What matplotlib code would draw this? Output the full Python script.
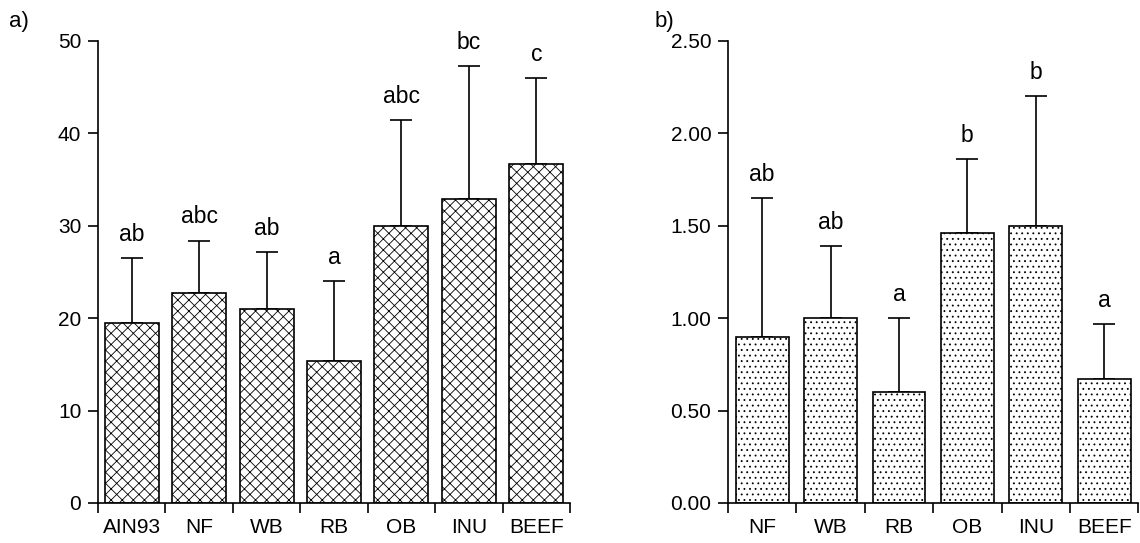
import numpy as np
import matplotlib
matplotlib.use("Agg")
import matplotlib.pyplot as plt

plt.rcParams['font.family'] = ['Liberation Sans', 'DejaVu Sans']
plt.rcParams['hatch.linewidth'] = 0.6

# panel a
cats_a = ["AIN93", "NF", "WB", "RB", "OB", "INU", "BEEF"]
mean_a = [19.5, 22.7, 21.0, 15.4, 30.0, 32.9, 36.7]
top_a = [26.5, 28.4, 27.2, 24.0, 41.4, 47.3, 46.0]
let_a = ["ab", "abc", "ab", "a", "abc", "bc", "c"]

# panel b
cats_b = ["NF", "WB", "RB", "OB", "INU", "BEEF"]
mean_b = [0.90, 1.00, 0.60, 1.46, 1.50, 0.67]
top_b = [1.65, 1.39, 1.00, 1.86, 2.20, 0.97]
let_b = ["ab", "ab", "a", "b", "b", "a"]

fig = plt.figure(figsize=(11.4, 5.43), dpi=100)
ax1 = fig.add_axes([0.086, 0.0737, 0.414, 0.851])
ax2 = fig.add_axes([0.6386, 0.0737, 0.36, 0.851])

def panel(ax, cats, means, tops, letters, hatch, width, ymax, step, fmt, off):
    x = np.arange(len(cats))
    err = np.array(tops) - np.array(means)
    ax.bar(x, means, width=width, color="white", edgecolor="black",
           linewidth=1.2, hatch=hatch, zorder=2)
    ax.errorbar(x, means, yerr=[np.zeros(len(x)), err], fmt="none",
                ecolor="black", elinewidth=1.2, capsize=8, capthick=1.2, zorder=1)
    for xi, t, l in zip(x, tops, letters):
        ax.text(xi, t + off, l, ha="center", va="bottom", fontsize=16.5)
    ax.set_xlim(-0.5, len(cats) - 0.5)
    ax.set_ylim(0, ymax)
    ax.set_yticks(np.arange(0, ymax + step / 2, step))
    ax.set_yticklabels([fmt.format(v) for v in np.arange(0, ymax + step / 2, step)])
    ax.set_xticks(x)
    ax.set_xticklabels(cats)
    ax.set_xticks(np.arange(-0.5, len(cats)), minor=True)
    ax.tick_params(axis="x", which="major", length=0, pad=11, labelsize=15)
    ax.tick_params(axis="x", which="minor", length=7, width=1.2, direction="out")
    ax.tick_params(axis="y", length=7, width=1.2, direction="out", labelsize=15, pad=5)
    for s in ["top", "right"]:
        ax.spines[s].set_visible(False)
    for s in ["left", "bottom"]:
        ax.spines[s].set_linewidth(1.2)

panel(ax1, cats_a, mean_a, top_a, let_a, "xxx", 0.8, 50, 10, "{:.0f}", 1.3)
panel(ax2, cats_b, mean_b, top_b, let_b, "...", 0.77, 2.5, 0.5, "{:.2f}", 0.065)

fig.text(0.008, 0.95, "a)", fontsize=16)
fig.text(0.574, 0.95, "b)", fontsize=16)

fig.savefig("out.png", dpi=100)
